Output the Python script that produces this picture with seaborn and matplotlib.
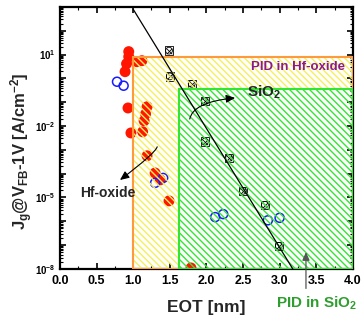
import numpy as np
import matplotlib
matplotlib.use("Agg")
import matplotlib.pyplot as plt
import seaborn as sns
from matplotlib import ticker
from matplotlib.patches import Rectangle, Polygon

# ---- data -------------------------------------------------------------
hf_eot = [0.94, 0.94, 0.91, 0.89, 1.05, 1.12, 0.93, 1.19, 1.17, 1.15,
          0.97, 1.13, 1.19, 1.30, 1.37, 1.49, 1.79]
hf_jg = [13.2, 8.1, 4.1, 1.9, 5.0, 5.5, 0.057, 0.064, 0.032, 0.0165,
         0.0051, 0.0057, 5.6e-4, 1.07e-4, 5.5e-5, 7.2e-6, 1.1e-8]

open_eot = [0.78, 0.87, 1.30, 1.41, 2.12, 2.23, 2.84, 3.00]
open_jg = [0.72, 0.49, 4.1e-5, 6.6e-5, 1.5e-6, 2.0e-6, 1.1e-6, 1.4e-6]

sio2_eot = [1.49, 1.50, 1.80, 1.98, 1.98, 2.31, 2.50, 2.80, 2.99]
sio2_jg = [14.5, 1.2, 0.59, 0.11, 2.2e-3, 4.6e-4, 1.9e-5, 4.9e-6, 9.3e-8]

fit_eot = [1.0, 3.18]
fit_jg = [800.0, 1e-8]

# PID regions: (EOT lower bound, Jg upper bound)
hf_region = (1.0, 8.1)
sio2_region = (1.62, 0.36)

x_ticklabels = ["0.0", "0.5", "1.0", "1.5", "2.0", "2.5", "3.0", "3.5", "4.0"]
y_labelled_exp = [1, -2, -5, -8]

# ---- style ------------------------------------------------------------
sns.set_theme(style="ticks")
plt.rcParams["font.family"] = ["Liberation Sans", "DejaVu Sans"]
plt.rcParams["font.weight"] = "bold"
plt.rcParams["mathtext.fontset"] = "custom"
plt.rcParams["mathtext.rm"] = "Liberation Sans:bold"
plt.rcParams["mathtext.it"] = "Liberation Sans:bold"
plt.rcParams["mathtext.bf"] = "Liberation Sans:bold"
plt.rcParams["mathtext.sf"] = "Liberation Sans:bold"
plt.rcParams["mathtext.default"] = "bf"
plt.rcParams["hatch.linewidth"] = 1.0

fig = plt.figure(figsize=(3.63, 3.26), dpi=100)
ax = fig.add_axes([0.165, 0.175, 0.807, 0.804])
ax.set_yscale("log")
ax.set_xlim(0, 4)
ax.set_ylim(1e-8, 1e3)

YELLOW = "#f5f05a"
ORANGE = "#ff9a3c"
GREEN = "#33e633"
HATCH = "\\" * 5

# data points
sns.scatterplot(x=hf_eot, y=hf_jg, ax=ax, color="#ff1500", s=62,
                edgecolor="none", linewidth=0, zorder=3, legend=False)
sns.scatterplot(x=open_eot, y=open_jg, ax=ax, marker="o", s=42,
                facecolor="none", edgecolor="#1a1aff", linewidth=1.1,
                zorder=3, legend=False)
sns.scatterplot(x=sio2_eot, y=sio2_jg, ax=ax, marker="s", s=36,
                facecolor="none", edgecolor="black", linewidth=0.6,
                zorder=3, legend=False)
sns.scatterplot(x=sio2_eot, y=sio2_jg, ax=ax, marker="o", s=24,
                facecolor="none", edgecolor="black", linewidth=0.6,
                zorder=3, legend=False)
sns.scatterplot(x=sio2_eot, y=sio2_jg, ax=ax, marker="x", s=16,
                color="black", linewidth=0.6, zorder=3, legend=False)

# hatched PID regions
x0h, yth = hf_region
x0s, yts = sio2_region
ybot, xr = 1e-8, 4.0
l_shape = [(x0h, ybot), (x0s, ybot), (x0s, yts), (xr, yts), (xr, yth), (x0h, yth)]
ax.add_patch(Polygon(l_shape, closed=True, fill=False, hatch=HATCH,
                     edgecolor=YELLOW, linewidth=0, zorder=4))
ax.add_patch(Rectangle((x0s, ybot), xr - x0s, yts - ybot, fill=False,
                       hatch=HATCH, edgecolor=GREEN, linewidth=0, zorder=4))
ax.add_patch(Rectangle((x0h, ybot), xr - x0h, yth - ybot, fill=False,
                       edgecolor=ORANGE, linewidth=1.5, zorder=5))
ax.add_patch(Rectangle((x0s, ybot), xr - x0s, yts - ybot, fill=False,
                       edgecolor=GREEN, linewidth=1.5, zorder=5))

# SiO2 trend line
sns.lineplot(x=fit_eot, y=fit_jg, ax=ax, color="black", linewidth=0.9,
             zorder=6, legend=False)

# annotations
ax.annotate("", xy=(2.43, 0.155), xytext=(1.77, 0.015),
            arrowprops=dict(arrowstyle="-|>,head_length=0.45,head_width=0.2",
                            color="black", lw=0.8,
                            connectionstyle="angle3,angleA=90,angleB=5"),
            zorder=7)
ax.text(2.55, 0.25, "SiO$_2$", fontsize=11, fontweight="bold",
        ha="left", va="center", zorder=7)

ax.annotate("", xy=(0.79, 4.6e-5), xytext=(1.30, 1.6e-3),
            arrowprops=dict(arrowstyle="-|>,head_length=0.45,head_width=0.2",
                            color="black", lw=0.8,
                            connectionstyle="angle3,angleA=0,angleB=217"),
            zorder=7)
ax.text(0.66, 1.55e-5, "Hf-oxide", fontsize=10, fontweight="bold",
        ha="center", va="center", zorder=7)

ax.text(3.89, 3.1, "PID in Hf-oxide", fontsize=9.5, fontweight="bold",
        color="#8b1a8b", ha="right", va="center", zorder=7)

ax.annotate("", xy=(0.84, 0.075), xytext=(0.84, -0.085),
            xycoords="axes fraction", textcoords="axes fraction",
            annotation_clip=False,
            arrowprops=dict(arrowstyle="-|>,head_length=0.4,head_width=0.18",
                            color="#555555", lw=0.9), zorder=7)
fig.text(0.873, 0.07, "PID in SiO$_2$", fontsize=11, fontweight="bold",
         color="#2e9e2e", ha="center", va="center")

# axes, ticks, labels
ax.set_xlabel("EOT [nm]", fontsize=12.5, fontweight="bold", labelpad=10)
ax.set_ylabel("J$_g$@V$_{FB}$-1V [A/cm$^{-2}$]", fontsize=12,
              fontweight="bold")
ax.yaxis.set_label_coords(-0.085, 0.45)

ax.xaxis.set_major_locator(ticker.MultipleLocator(0.5))
ax.xaxis.set_minor_locator(ticker.MultipleLocator(0.25))
ax.set_xticks(np.arange(0, 4.01, 0.5))
ax.set_xticklabels(x_ticklabels)

ax.yaxis.set_major_locator(ticker.FixedLocator(10.0 ** np.arange(-8, 4)))
ax.yaxis.set_minor_locator(ticker.LogLocator(base=10, subs=np.arange(2, 10),
                                             numticks=100))
ax.yaxis.set_minor_formatter(ticker.NullFormatter())


def ylab(v, pos):
    e = int(round(np.log10(v)))
    return r"$10^{%d}$" % e if e in y_labelled_exp else ""


ax.yaxis.set_major_formatter(ticker.FuncFormatter(ylab))

ax.tick_params(which="both", direction="in", top=True, right=True,
               colors="black")
ax.tick_params(which="major", length=4, width=1.2)
ax.tick_params(which="minor", length=2, width=0.8)
ax.tick_params(axis="x", labelsize=9, pad=4)
ax.tick_params(axis="y", labelsize=7, pad=3)
for lab in ax.get_xticklabels() + ax.get_yticklabels():
    lab.set_fontweight("bold")
for sp in ax.spines.values():
    sp.set_linewidth(1.6)
    sp.set_color("black")

fig.savefig("out.png", dpi=100)
